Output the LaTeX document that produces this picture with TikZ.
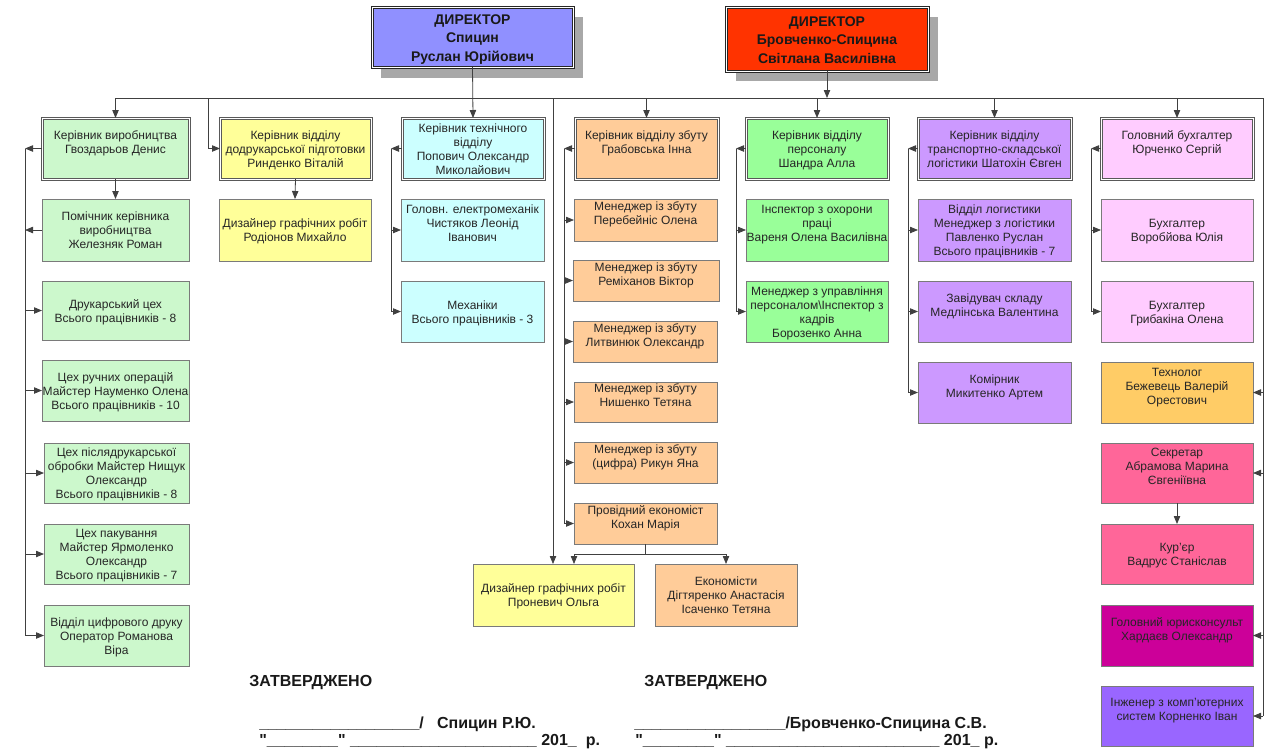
\documentclass[tikz,border=0pt]{standalone}
\usepackage{fontspec}
\setmainfont{Liberation Sans}
\usetikzlibrary{arrows.meta}
\definecolor{cDirA}{HTML}{9090FF}
\definecolor{cDirB}{HTML}{FF3300}
\definecolor{cGrn}{HTML}{CCF8CC}
\definecolor{cYel}{HTML}{FFFF99}
\definecolor{cCya}{HTML}{CCFFFF}
\definecolor{cOra}{HTML}{FFCC99}
\definecolor{cGrB}{HTML}{99FF99}
\definecolor{cPur}{HTML}{CC99FF}
\definecolor{cPnk}{HTML}{FFCCFF}
\definecolor{cTec}{HTML}{FFCC66}
\definecolor{cSec}{HTML}{FF6699}
\definecolor{cLaw}{HTML}{CC0099}
\definecolor{cEng}{HTML}{9966FF}
\definecolor{cLine}{HTML}{404040}
\definecolor{cBord}{HTML}{7A7A7A}
\definecolor{cShad}{HTML}{A8A8A8}
\renewcommand\arraystretch{1}
% #1 style, #2 name, #3 x1, #4 y1, #5 x2, #6 y2, #7 text
\newcommand\bxsize[4]{%
  \pgfmathsetmacro\bxw{(#3-#1)*0.75}%
  \pgfmathsetmacro\bxh{(#4-#2)*0.75}%
  \pgfmathsetmacro\bxx{(#1+#3)/2}%
  \pgfmathsetmacro\bxy{(#2+#4)/2}}
\newcommand\bx[7]{%
  \bxsize{#3}{#4}{#5}{#6}%
  \node[#1, minimum width=\bxw pt, minimum height=\bxh pt, anchor=center] (#2) at (\bxx,\bxy)
    {\begin{tabular}{@{}c@{}}\noalign{\vskip 3pt}#7\end{tabular}};}
% small box: text placed separately, raised towards the top
\newcommand\sbx[7]{%
  \bxsize{#3}{#4}{#5}{#6}%
  \node[#1, minimum width=\bxw pt, minimum height=\bxh pt, anchor=center] (#2) at (\bxx,\bxy) {};
  \node[#1, draw=none, fill=none, yshift=5.25pt] (#2-t) at (#2.center)
    {\begin{tabular}{@{}c@{}}\noalign{\vskip 3pt}#7\end{tabular}};}
\begin{document}
\begin{tikzpicture}[x=0.75pt,y=-0.75pt,
  box/.style={draw=cBord, line width=0.7pt, inner sep=0pt, outer sep=0pt,
    font=\fontsize{9}{10.5}\selectfont, text=black!85},
  head/.style={box, draw=black!65, line width=0.75pt, double=white, double distance=0.75pt},
  dir/.style={box, draw=black!85, line width=0.75pt, double=white, double distance=0.75pt,
    font=\bfseries\fontsize{10.5}{13.9}\selectfont, text=black!90},
  ln/.style={draw=cLine, line width=0.6pt},
  arr/.style={ln, -{Triangle[length=6pt,width=4.8pt]}},
  sig/.style={inner sep=0pt, anchor=base west, font=\bfseries\fontsize{12}{14}\selectfont, text=black!90}]
\useasboundingbox (0,0) rectangle (1266,751);
% shadows of directors
\fill[cShad] (381,17) rectangle (583,78);
\fill[cShad] (736,17) rectangle (938,81);
% directors
\bx{dir, fill=cDirA}{dA}{372}{7}{573}{67}{ДИРЕКТОР\\Спицин\\Руслан Юрійович}
\bx{dir, fill=cDirB}{dB}{726}{7}{928}{71}{ДИРЕКТОР\\Бровченко-Спицина\\Світлана Василівна}
% row 1 heads
\bx{head, fill=cGrn}{gv}{42}{118}{189}{179}{Керівник виробництва\\Гвоздарьов Денис\\\mbox{}}
\bx{head, fill=cYel}{ry}{220}{118}{371}{179}{Керівник відділу\\додрукарської підготовки\\Ринденко Віталій}
\bx{head, fill=cCya}{po}{402}{118}{544}{179}{Керівник технічного\\відділу\\Попович Олександр\\Миколайович}
\bx{head, fill=cOra}{gr}{575}{118}{718}{179}{Керівник відділу збуту\\Грабовська Інна\\\mbox{}}
\bx{head, fill=cGrB}{sh}{746}{118}{888}{179}{Керівник відділу\\персоналу\\Шандра Алла}
\bx{head, fill=cPur}{st}{918}{118}{1071}{179}{Керівник відділу\\транспортно-складської\\логістики Шатохін Євген}
\bx{head, fill=cPnk}{yu}{1101}{118}{1253}{179}{Головний бухгалтер\\Юрченко Сергій\\\mbox{}}
% column 1
\bx{box, fill=cGrn}{pm}{42}{199}{189}{261}{Помічник керівника\\виробництва\\Железняк Роман}
\bx{box, fill=cGrn}{dr}{42}{281}{189}{340}{Друкарський цех\\Всього працівників - 8}
\bx{box, fill=cGrn}{rc}{42}{360}{189}{421}{Цех ручних операцій\\Майстер Науменко Олена\\Всього працівників - 10}
\bx{box, fill=cGrn}{pd}{44}{443}{189}{503}{Цех післядрукарської\\обробки Майстер Нищук\\Олександр\\Всього працівників - 8}
\bx{box, fill=cGrn}{pk}{44}{524}{189}{584}{Цех пакування\\Майстер Ярмоленко\\Олександр\\Всього працівників - 7}
\bx{box, fill=cGrn}{cd}{44}{605}{189}{666}{Відділ цифрового друку\\Оператор Романова\\Віра}
% column 2
\bx{box, fill=cYel}{rd}{219}{199}{371}{261}{Дизайнер графічних робіт\\Родіонов Михайло}
% column 3
\bx{box, fill=cCya}{el}{401}{199}{544}{261}{Головн. електромеханік\\Чистяков Леонід\\Іванович\\\mbox{}}
\bx{box, fill=cCya}{mx}{401}{281}{544}{342}{Механіки\\Всього працівників - 3}
% column 4 (sales)
\sbx{box, fill=cOra}{ma}{574}{199}{717}{241}{Менеджер із збуту\\Перебейніс Олена}
\sbx{box, fill=cOra}{mb}{573}{260}{719}{301}{Менеджер із збуту\\Реміханов Віктор}
\sbx{box, fill=cOra}{mc}{573}{321}{717}{362}{Менеджер із збуту\\Литвинюк Олександр}
\sbx{box, fill=cOra}{md}{574}{382}{717}{422}{Менеджер із збуту\\Нишенко Тетяна}
\sbx{box, fill=cOra}{me}{574}{442}{717}{483}{Менеджер із збуту\\(цифра) Рикун Яна}
\sbx{box, fill=cOra}{pe}{574}{503}{717}{544}{Провідний економіст\\Кохан Марія}
\bx{box, fill=cYel}{pr}{473}{564}{634}{626}{Дизайнер графічних робіт\\Проневич Ольга}
\bx{box, fill=cOra}{ek}{655}{564}{797}{626}{Економісти\\Дігтяренко Анастасія\\Ісаченко Тетяна}
% column 5 (personnel)
\bx{box, fill=cGrB}{ins}{746}{199}{888}{261}{Інспектор з охорони\\праці\\Вареня Олена Василівна\\\mbox{}}
\bx{box, fill=cGrB}{mu}{746}{281}{888}{342}{Менеджер з управління\\персоналом\textbackslash Інспектор з\\кадрів\\Борозенко Анна}
% column 6 (logistics)
\bx{box, fill=cPur}{lg}{918}{199}{1071}{261}{Відділ логистики\\Менеджер з логістики\\Павленко Руслан\\Всього працівників - 7}
\bx{box, fill=cPur}{zv}{918}{281}{1071}{342}{Завідувач складу\\Медлінська Валентина\\\mbox{}}
\bx{box, fill=cPur}{km}{918}{362}{1071}{423}{Комірник\\Микитенко Артем\\\mbox{}}
% column 7 (accounting and others)
\bx{box, fill=cPnk}{ba}{1101}{199}{1253}{261}{Бухгалтер\\Воробйова Юлія}
\bx{box, fill=cPnk}{bb}{1101}{281}{1253}{342}{Бухгалтер\\Грибакіна Олена}
\bx{box, fill=cTec}{tc}{1101}{362}{1253}{423}{Технолог\\Бежевець Валерій\\Орестович\\\mbox{}}
\bx{box, fill=cSec}{sc}{1101}{443}{1253}{503}{Секретар\\Абрамова Марина\\Євгеніївна\\\mbox{}}
\bx{box, fill=cSec}{ku}{1101}{524}{1253}{584}{Кур'єр\\Вадрус Станіслав}
\bx{box, fill=cLaw}{law}{1101}{605}{1253}{666}{Головний юрисконсульт\\Хардаєв Олександр\\\mbox{}}
\bx{box, fill=cEng}{en}{1101}{686}{1253}{746}{Інженер з комп'ютерних\\систем Корненко Іван\\\mbox{}}
% helper coordinates
\coordinate (bus) at (0,98);
\coordinate (xL) at (25,0);
\coordinate (xRy) at (208,0);
\coordinate (xPo) at (391,0);
\coordinate (xPr) at (553,0);
\coordinate (xGr) at (564,0);
\coordinate (xSh) at (736,0);
\coordinate (xSt) at (908,0);
\coordinate (xYu) at (1091,0);
\coordinate (xR) at (1263,0);
\coordinate (eb) at (0,554);
\coordinate (xPd) at (574,0);
% top bus
\draw[ln] (gv.north |- bus) -- (xR |- bus) -- (xR |- en.east);
\draw[arr] (gv.north |- bus) -- (gv.north);
\draw[arr] (xRy |- bus) -- (xRy |- ry.west) -- (ry.west);
\draw[arr] (dA.south) -- (po.north);
\draw[arr] (xPr |- bus) -- (xPr |- pr.north);
\draw[arr] (dB.south) -- (dB.south |- bus);
\foreach \n in {gr,sh,st,yu} \draw[arr] (\n.north |- bus) -- (\n.north);
\foreach \n in {tc,sc,law,en} \draw[arr] (xR |- \n.east) -- (\n.east);
\draw[arr] (sc.south) -- (ku.north);
% column 1
\draw[arr] (gv.south) -- (pm.north);
\draw[arr] (gv.west) -- (gv.west -| xL);
\draw[arr] (pm.west) -- (pm.west -| xL);
\draw[ln] (gv.west -| xL) -- (cd.west -| xL);
\foreach \n in {dr,rc,pd,pk,cd} \draw[arr] (\n.west -| xL) -- (\n.west);
% column 2
\draw[arr] (ry.south) -- (rd.north);
% column 3
\draw[arr] (po.west) -- (po.west -| xPo);
\draw[ln] (po.west -| xPo) -- (mx.west -| xPo);
\foreach \n in {el,mx} \draw[arr] (\n.west -| xPo) -- (\n.west);
% column 4
\draw[arr] (gr.west) -- (gr.west -| xGr);
\draw[ln] (gr.west -| xGr) -- (pe.west -| xGr);
\foreach \n in {ma,mb,mc,md,me,pe} \draw[arr] (\n.west -| xGr) -- (\n.west);
\draw[arr] (pe.south) |- (xPd |- eb) -- (xPd |- pr.north);
\draw[arr] (pe.south |- eb) -| (ek.north);
% column 5
\draw[arr] (sh.west) -- (sh.west -| xSh);
\draw[ln] (sh.west -| xSh) -- (mu.west -| xSh);
\foreach \n in {ins,mu} \draw[arr] (\n.west -| xSh) -- (\n.west);
% column 6
\draw[arr] (st.west) -- (st.west -| xSt);
\draw[ln] (st.west -| xSt) -- (km.west -| xSt);
\foreach \n in {lg,zv,km} \draw[arr] (\n.west -| xSt) -- (\n.west);
% column 7
\draw[arr] (yu.west) -- (yu.west -| xYu);
\draw[ln] (yu.west -| xYu) -- (bb.west -| xYu);
\foreach \n in {ba,bb} \draw[arr] (\n.west -| xYu) -- (\n.west);
% approval texts
\node[sig] (za) at (249,686) {ЗАТВЕРДЖЕНО};
\node[sig] (zb) at (644,686) {ЗАТВЕРДЖЕНО};
\node[sig] (sa) at (259,728) {\_\_\_\_\_\_\_\_\_\_\_\_\_\_\_\_\_\_/\ \ \ Спицин Р.Ю.};
\node[sig] (sb) at (634,728) {\_\_\_\_\_\_\_\_\_\_\_\_\_\_\_\_\_/Бровченко-Спицина С.В.};
\node[sig] (da) at (259,745) {\textquotedbl\_\_\_\_\_\_\_\_\textquotedbl\ \_\_\_\_\_\_\_\_\_\_\_\_\_\_\_\_\_\_\_\_\_\ 201\_\ \ р.};
\node[sig] (db) at (635,745) {\textquotedbl\_\_\_\_\_\_\_\_\textquotedbl\ \_\_\_\_\_\_\_\_\_\_\_\_\_\_\_\_\_\_\_\_\_\_\_\_\ 201\_\ р.};
\end{tikzpicture}
\end{document}
